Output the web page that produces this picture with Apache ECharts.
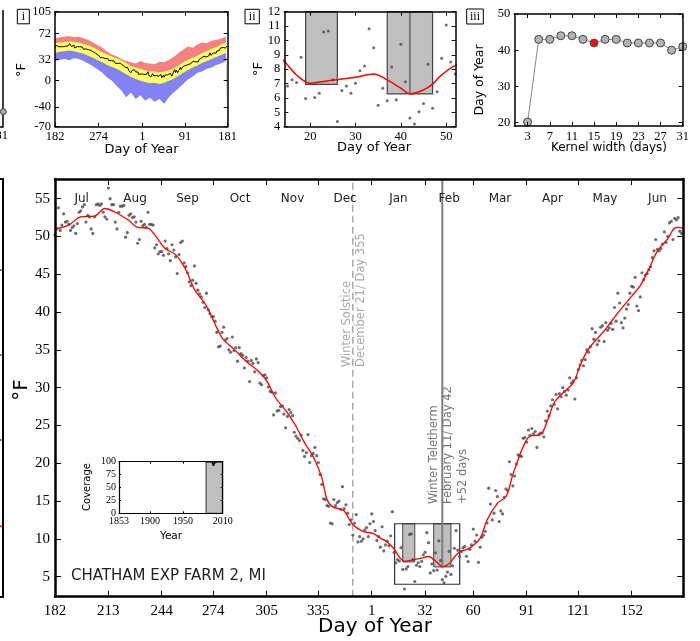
<!DOCTYPE html>
<html><head><meta charset="utf-8">
<script src="https://cdn.jsdelivr.net/npm/echarts@6/dist/echarts.min.js"></script>
<style>html,body{margin:0;padding:0;background:#fff}#c{width:700px;height:641px}#err{position:absolute;left:0;top:0;font:10px monospace;color:#c00;white-space:pre-wrap;width:700px}</style>
</head><body><div id="c"></div><div id="err"></div>
<script>
// ---------------- DATA ----------------
// Daily mean temperature (°F), ordered from day 182 (Jul 1) to day 181 (Jun 30)
const julT = [50.2,51.0,53.8,50.8,51.5,53.0,51.9,52.0,51.6,50.8,51.2,51.4,50.4,51.7,53.2,53.4,53.9,54.2,51.9,52.8,52.6,51.0,50.4,52.6,54.2,54.3,54.1,54.3,53.2,52.6,52.3];
const augT = [56.4,55.0,54.2,54.2,51.9,51.0,53.2,54.0,54.0,54.1,49.9,50.5,52.8,53.0,52.5,52.6,51.9,49.1,49.6,52.0,51.4,51.6,51.2,53.2,51.6,51.6,51.5,48.5,48.9,47.7,48.0];
const sepT = [48.0,47.5,49.4,48.4,47.7,46.8,48.9,48.2,47.3,45.1,47.6,49.2,49.4,46.5,46.0,45.2,44.0,43.5,44.2,46.1,43.8,42.9,42.4,42.0,41.3,40.6,42.5,40.3,39.8,39.4];
const octT = [39.4,38.8,37.3,35.4,35.5,37.3,38.0,36.3,36.5,35.0,34.7,36.7,34.9,35.3,33.5,35.3,34.5,34.3,32.6,34.0,33.5,30.8,33.6,33.2,32.1,33.8,33.3,30.6,30.4,31.6,31.7];
const novT = [31.3,30.1,29.5,29.4,26.4,29.3,26.9,27.0,27.5,27.6,26.5,24.7,26.2,27.1,26.7,26.3,24.1,23.6,23.3,23.0,23.7,21.7,20.9,21.4,23.8,20.1,21.0,21.3,22.1,21.0];
const decT = [20.1,18.5,17.2,15.3,15.2,14.4,14.3,12.1,12.0,15.2,14.4,14.8,15.0,13.9,16.9,14.0,14.5,13.4,11.9,12.5,10.5,12.1,13.2,9.6,10.3,9.7,10.0,11.2,11.5,10.3,12.0];
const janT = [13.3,12.3,11.1,9.8,10.3,8.9,11.6,8.4,9.2,9.7,9.1,10.4,13.6,8.2,6.84,7.26,7.07,8.83,5.96,3.37,6.03,6.33,10.59,10.66,7.26,4.36,6.51,6.84,6.33,7.03,7.9];
const febT = [8.23,10.82,9.5,5.5,6.68,5.8,8.16,5.87,9.74,7.12,4.6,4.18,5.04,5.61,8.35,5.29,6.44,8.76,11.08,8.5,7.67,8.3,8.8,9.0,7.7,7.0,8.6,9.2];
const marT = [11.3,9.7,10.5,6.9,8.9,10.2,10.5,11.0,12.1,16.7,14.6,12.5,13.4,16.4,15.6,12.3,13.7,13.3,15.5,16.6,16.4,20.2,18.5,17.0,18.3,19.9,21.1,21.0,20.9,23.3,23.4];
const aprT = [22.8,24.4,23.7,24.6,23.9,24.2,22.1,23.8,24.0,24.0,23.5,25.6,26.9,26.3,27.6,28.4,27.8,29.1,27.2,29.2,28.8,30.0,29.5,29.0,29.7,31.3,30.6,30.9,28.5,31.3];
const mayT = [32.4,33.0,33.6,32.9,33.7,35.0,34.7,35.4,37.8,36.4,37.3,35.7,36.2,38.0,38.2,36.1,38.6,37.6,37.9,38.5,37.7,40.6,38.8,42.5,41.2,38.6,37.9,39.2,40.4,41.0,42.5];
const junT = [43.4,43.3,44.6,40.8,40.2,42.0,45.2,44.3,44.9,45.1,45.6,46.0,47.2,48.1,49.6,48.3,48.1,48.4,49.0,50.6,49.2,50.0,51.8,52.0,49.6,52.4,52.2,52.5,50.7,50.4];

// Smoothed curve (position index from Jul 1, value °F)
const curveIdx = [0,8,15,23,29,35,43,48,54,58,64,70,76,81,88,97,104,111,118,123,128,135,140,145,150,155,158,161,166,168,173,179,185,189,193,197,200,203,207,213,217,220,223,225,228,230,232,235,241,247,251,257,262,266,272,276,282,286,290,295,301,305,309,313,319,327,335,340,345,350,356,360,363,365];
const curveVal = [51.0,51.5,52.6,52.7,53.7,53.2,52.1,51.2,51.1,50.2,48.4,47.6,45.6,43.0,40.8,36.6,35.1,33.5,32.2,30.9,28.7,26.7,24.9,22.7,20.9,18.1,15.2,14.3,13.9,13.7,11.9,11.0,10.7,10.1,9.6,8.65,7.6,7.03,7.2,7.44,7.67,7.26,6.68,6.29,6.56,6.96,7.6,8.25,8.8,10.1,12.5,14.7,15.6,18.5,22.2,23.6,23.8,25.6,28.0,29.3,30.6,32.9,34.8,36.0,37.5,39.9,42.1,43.5,45.7,48.1,49.7,51.1,51.2,51.0];

const monthNames = ['Jul','Aug','Sep','Oct','Nov','Dec','Jan','Feb','Mar','Apr','May','Jun'];
const monthStartDays = [182,213,244,274,305,335,1,32,60,91,121,152];
const yTickLabels = [5,10,15,20,25,30,35,40,45,50,55];

const solsticeDay = 355;
const teletermDay = 42;
const teletermTemp = 6.29;
const detailDays = [14.3, 52.1];
const detailTemps = [4, 12];
const windowStart = [19, 37];
const windowEnd = [26, 47];
const windowBottom = [6.95, 6.29];

// Inset i: envelopes (position index, °F)
const envIdx = [0,10,20,30,40,50,60,70,80,90,100,110,120,130,140,150,160,170,180,190,200,210,220,230,240,250,260,270,280,290,300,310,320,330,340,350,360,364];
const maxTop = [64,66,67,68,66,67,65,62,58,54,50,44,40,37,33,30,28,26,30,27,26,25,29,28,32,36,42,47,52,50,55,58,57,61,62,64,67,66];
const bandTop = [57,58,59,60,59,58,56,54,51,47,43,40,37,34,31,27,22,20,18,16,14,14,13,14,16,19,23,28,32,35,38,42,45,49,51,55,58,58];
const bandBottom = [42,44,45,46,45,43,41,38,35,31,28,24,21,18,14,10,6,3,0,-2,-4,-3,-5,-3,0,3,7,12,16,20,23,27,30,33,36,39,42,42];
const minBottom = [30,32,33,31,34,33,30,26,22,17,12,5,0,-8,-15,-25,-18,-28,-22,-30,-26,-32,-28,-35,-25,-18,-12,-5,2,6,12,14,18,20,24,26,30,30];
const insetITicks = [182,274,1,91,181];
const insetIYTicks = [105,72,32,0,-40,-70];

// Inset iii: teletherm day vs kernel width
const kernelWidths = [3,5,7,9,11,13,15,17,19,21,23,25,27,29,31];
const teleDays = [20.2,43,43,44,44,43,42,43,43,42,42,42,42,40,41];
const chosenKernel = 15;

// Coverage inset
const coverageYears = [1985,1986,1987,1988,1989,1990,1991,1992,1993,1994,1995,1996,1997,1998,1999,2000,2001,2002,2003,2004,2005,2006,2007,2008,2009,2010];
const coverageVals = [100,100,99,100,100,100,98,100,100,100,96,92,97,100,100,99,100,100,100,100,100,100,100,100,100,100];
const coverageTicksX = [1853,1900,1950,2010];
const coverageTicksY = [0,25,50,75,100];

try {
// ---------------- HELPERS ----------------
const dailyTemps = [].concat(julT,augT,sepT,octT,novT,decT,janT,febT,marT,aprT,mayT,junT);
function dayToIdx(d){ return d >= 182 ? d - 182 : d + 183; }
const monthStartIdx = monthStartDays.map(dayToIdx);
const monthMidIdx = monthStartIdx.map((v,i)=> (v + (i<11 ? monthStartIdx[i+1] : 365))/2);
const SERIF = 'Liberation Serif';
const SANS = 'DejaVu Sans';

function axis(grid, position, min, max, o){
  o = o || {};
  const lab = {show:!!o.labels, fontFamily:SERIF, fontSize:o.fs||12, color:'#000', margin:o.margin||4};
  if (o.labels) lab.customValues = o.labels;
  lab.formatter = o.fmt || (v => String(v));
  Object.assign(lab, o.label||{});
  const tick = {show:true, inside:true, length:o.tl||4, lineStyle:{color:'#000', width:1}};
  if (o.ticks) tick.customValues = o.ticks;
  return {
    type:'value', gridIndex:grid, position:position, min:min, max:max, z:10,
    axisLine:{show:true, onZero:false, lineStyle:{color:'#000', width:o.lw||1.5}},
    axisTick:tick, axisLabel:lab, splitLine:{show:false}
  };
}
function rectRender(fill, stroke, lw){
  return function(params, api){
    const a = api.coord([api.value(0), api.value(3)]);
    const b = api.coord([api.value(1), api.value(2)]);
    return {type:'rect', shape:{x:a[0], y:a[1], width:b[0]-a[0], height:b[1]-a[1]},
      style:{fill:fill, stroke:stroke, lineWidth:lw}};
  };
}

const mainY = [2.35, 57.6];
const idxFmt = v => { const i = monthStartIdx.indexOf(Math.round(v)); return i>=0 ? String(monthStartDays[i]) : ''; };
const monFmt = v => { const i = monthMidIdx.indexOf(v); return i>=0 ? monthNames[i] : ''; };
const envTickIdx = insetITicks.map(dayToIdx);
const envFmt = v => { const i = envTickIdx.indexOf(Math.round(v)); return i>=0 ? String(insetITicks[i]) : ''; };
const kTicks = kernelWidths.filter((k,i)=>i%2===0);

const xAxes = [
  axis(0,'bottom',0,365,{lw:2.5,tl:6,ticks:monthStartIdx,labels:monthStartIdx,fmt:idxFmt,fs:15,margin:7}),
  axis(0,'top',0,365,{lw:2.5,tl:6,ticks:monthStartIdx,labels:monthMidIdx,fmt:monFmt,fs:12,margin:14,label:{inside:true,fontFamily:SANS,color:'#222'}}),
  axis(1,'bottom',0,364,{ticks:envTickIdx,labels:envTickIdx,fmt:envFmt,fs:12.5}),
  axis(1,'top',0,364,{ticks:envTickIdx}),
  axis(2,'bottom',14.3,52.1,{ticks:[20,30,40,50],labels:[20,30,40,50],fs:12.5}),
  axis(2,'top',14.3,52.1,{ticks:[20,30,40,50]}),
  axis(3,'bottom',0.6,31,{ticks:kTicks,labels:kTicks,fs:12.5}),
  axis(3,'top',0.6,31,{ticks:kTicks}),
  axis(4,'bottom',1853,2010,{lw:1.2,tl:2,ticks:coverageTicksX,labels:coverageTicksX,fs:10,margin:3}),
  axis(4,'top',1853,2010,{lw:1.2,tl:2,ticks:coverageTicksX})
];
const yAxes = [
  axis(0,'left',mainY[0],mainY[1],{lw:2.5,tl:6,ticks:yTickLabels,labels:yTickLabels,fs:15,margin:5}),
  axis(0,'right',mainY[0],mainY[1],{lw:2.5,tl:6,ticks:yTickLabels}),
  axis(1,'left',-70,105,{ticks:insetIYTicks,labels:insetIYTicks,fs:12.5}),
  axis(1,'right',-70,105,{ticks:insetIYTicks}),
  axis(2,'left',4,12,{ticks:[4,5,6,7,8,9,10,11,12],labels:[4,5,6,7,8,9,10,11,12],fs:12.5}),
  axis(2,'right',4,12,{ticks:[4,5,6,7,8,9,10,11,12]}),
  axis(3,'left',19.1,50,{ticks:[20,30,40,50],labels:[20,30,40,50],fs:12.5}),
  axis(3,'right',19.1,50,{ticks:[20,30,40,50]}),
  axis(4,'left',0,100,{lw:1.2,tl:2,ticks:coverageTicksY,labels:coverageTicksY,fs:10,margin:3}),
  axis(4,'right',0,100,{lw:1.2,tl:2,ticks:coverageTicksY})
];

const grids = [
  {left:55, top:179, width:628.3, height:417.7},
  {left:55, top:11.7, width:172.7, height:115},
  {left:284.3, top:11.7, width:171.4, height:115},
  {left:514.3, top:14, width:168.4, height:112},
  {left:119, top:461.7, width:103.7, height:51.6}
].map(g => Object.assign({show:false, containLabel:false}, g));

const scatterMain = dailyTemps.map((v,i)=>[i,v]);
const curveMain = curveIdx.map((x,i)=>[x,curveVal[i]]);
const barsMain = windowStart.map((s,i)=>[dayToIdx(s), dayToIdx(windowEnd[i]), windowBottom[i], detailTemps[1]]);
const barsInset = windowStart.map((s,i)=>[s, windowEnd[i], windowBottom[i], detailTemps[1]]);
const scatterInset = dailyTemps.map((v,i)=>[i-183, v]).filter(p=>p[0]>=13 && p[0]<=53);
const curveInset = curveIdx.map((x,i)=>[x-183, curveVal[i]]).filter(p=>p[0]>=8 && p[0]<=60);
const envSeries = (arr,color,z) => ({type:'line', xAxisIndex:2, yAxisIndex:2, z:z, symbol:'none', silent:true,
  data: envIdx.map((x,i)=>[x, arr[i]]), lineStyle:{width:0}, areaStyle:{color:color, opacity:1, origin:'start'}});

const kernelData = kernelWidths.map((k,i)=>{
  const item = {value:[k, teleDays[i]]};
  if (k===chosenKernel) item.itemStyle = {color:'#ee1111', borderColor:'#555', borderWidth:1};
  return item;
});

const series = [
  // main chart
  {type:'custom', xAxisIndex:0, yAxisIndex:0, z:1, renderItem:rectRender('#bfbfbf','#444',1), data:barsMain},
  {type:'custom', xAxisIndex:0, yAxisIndex:0, z:1, renderItem:rectRender('none','#333',1.2),
    data:[[dayToIdx(detailDays[0]), dayToIdx(detailDays[1]), detailTemps[0], detailTemps[1]]]},
  {type:'line', xAxisIndex:0, yAxisIndex:0, z:2, symbol:'none', silent:true,
    data:[[dayToIdx(solsticeDay), mainY[0]],[dayToIdx(solsticeDay), mainY[1]]],
    lineStyle:{color:'#aaaaaa', width:1.5, type:[7,4]}},
  {type:'line', xAxisIndex:0, yAxisIndex:0, z:2, symbol:'none', silent:true,
    data:[[dayToIdx(teletermDay), teletermTemp],[dayToIdx(teletermDay), mainY[1]]],
    lineStyle:{color:'#7f7f7f', width:2}},
  {type:'scatter', xAxisIndex:0, yAxisIndex:0, z:3, symbolSize:3.2, data:scatterMain, itemStyle:{color:'#4a4a4a'}},
  {type:'line', xAxisIndex:0, yAxisIndex:0, z:4, symbol:'none', smooth:0.35, data:curveMain, lineStyle:{color:'#ff0000', width:1.3}},
  // inset i
  envSeries(maxTop,'#f88080',1),
  envSeries(bandTop,'#ffff66',2),
  envSeries(bandBottom,'#8282f5',3),
  envSeries(minBottom,'#ffffff',4),
  {type:'line', xAxisIndex:2, yAxisIndex:2, z:5, symbol:'none', data:dailyTemps.map((v,i)=>[i,v]), lineStyle:{color:'#000', width:1}},
  // inset ii
  {type:'custom', xAxisIndex:4, yAxisIndex:4, z:1, renderItem:rectRender('#bfbfbf','#444',1.2), data:barsInset},
  {type:'line', xAxisIndex:4, yAxisIndex:4, z:2, symbol:'none', data:[[teletermDay, teletermTemp],[teletermDay, detailTemps[1]]], lineStyle:{color:'#666', width:1.5}},
  {type:'scatter', xAxisIndex:4, yAxisIndex:4, z:3, symbolSize:3, data:scatterInset, itemStyle:{color:'#4a4a4a'}},
  {type:'line', xAxisIndex:4, yAxisIndex:4, z:4, symbol:'none', smooth:0.35, data:curveInset, lineStyle:{color:'#ff0000', width:1.5}},
  // inset iii
  {type:'line', xAxisIndex:6, yAxisIndex:6, z:3, symbol:'circle', symbolSize:8, data:kernelData,
    lineStyle:{color:'#888', width:1}, itemStyle:{color:'#b3b3b3', borderColor:'#444', borderWidth:1}},
  // coverage
  {type:'custom', xAxisIndex:8, yAxisIndex:8, z:1, renderItem:rectRender('#bfbfbf','#333',1),
    data:[[coverageYears[0]-0.2, coverageYears[coverageYears.length-1], 0, 100]]},
  {type:'line', xAxisIndex:8, yAxisIndex:8, z:2, symbol:'none', data:coverageYears.map((y,i)=>[y, coverageVals[i]]), lineStyle:{color:'#000', width:1.5}}
];

function txt(x,y,text,o){
  o = o || {};
  return {type:'text', x:x, y:y, rotation:o.rot||0, z:100, silent:true,
    style:{text:text, fontSize:o.fs||12, fontFamily:o.ff||SANS, fill:o.fill||'#000', align:o.align||'center', verticalAlign:o.va||'middle'}};
}
function box(x,y,w,h,label){
  return [{type:'rect', z:100, shape:{x:x,y:y,width:w,height:h}, style:{fill:'#fff', stroke:'#000', lineWidth:1}},
          txt(x+w/2, y+h/2+0.5, label, {ff:SERIF, fs:12})];
}
const R = Math.PI/2;
const graphics = [].concat(
  box(17.3,9.3,12,14.5,'i'), box(245,9.3,14.3,14.5,'ii'), box(466.7,9,16.6,15,'iii'),
  [
    txt(22,70,'°F',{rot:R,fs:13}),
    txt(141.5,150,'Day of Year',{fs:13}),
    txt(259,69,'°F',{rot:R,fs:13}),
    txt(374,148,'Day of Year',{fs:13}),
    txt(480,80,'Day of Year',{rot:R,fs:12.5}),
    txt(609,148,'Kernel width (days)',{fs:12}),
    txt(22,390,'°F',{rot:R,fs:20}),
    txt(375,627,'Day of Year',{fs:20}),
    txt(71,576,'CHATHAM EXP FARM 2, MI',{fs:15,align:'left',fill:'#222'}),
    txt(87.3,487,'Coverage',{rot:R,fs:10}),
    txt(171,536,'Year',{fs:10.5}),
    txt(346.7,367,'Winter Solstice',{rot:R,fs:11.5,align:'left',fill:'#aaaaaa'}),
    txt(360.7,367,'December 21/ Day 355',{rot:R,fs:11.5,align:'left',fill:'#aaaaaa'}),
    txt(434.3,504,'Winter Teletherm',{rot:R,fs:11.5,align:'left',fill:'#777'}),
    txt(448.3,504,'February 11/ Day 42',{rot:R,fs:11.5,align:'left',fill:'#777'}),
    txt(462.7,504,'+52 days',{rot:R,fs:11.5,align:'left',fill:'#777'}),
    {type:'polyline', z:100, shape:{points:[[3,10],[3,127],[-2,127]]}, style:{stroke:'#000', fill:'none', lineWidth:1.5}},
    {type:'circle', z:101, shape:{cx:3.3, cy:111.7, r:3}, style:{fill:'#aaa', stroke:'#444', lineWidth:1}},
    txt(8,136,'181',{ff:SERIF,fs:12.5,align:'right'}),
    {type:'polyline', z:100, shape:{points:[[-2,179],[3,179],[3,597],[-2,597]]}, style:{stroke:'#000', fill:'none', lineWidth:2}},
    {type:'line', z:100, shape:{x1:0,y1:270,x2:3,y2:270}, style:{stroke:'#000', lineWidth:1}},
    {type:'line', z:100, shape:{x1:0,y1:355,x2:3,y2:355}, style:{stroke:'#000', lineWidth:1}},
    {type:'line', z:100, shape:{x1:0,y1:440,x2:3,y2:440}, style:{stroke:'#000', lineWidth:1}},
    {type:'line', z:100, shape:{x1:-1,y1:525,x2:2,y2:527}, style:{stroke:'#ff0000', lineWidth:1.3}}
  ]
);

const chart = echarts.init(document.getElementById('c'), null, {renderer:'canvas'});
chart.setOption({
  animation:false,
  backgroundColor:'#fff',
  grid:grids, xAxis:xAxes, yAxis:yAxes, series:series, graphic:graphics
});
} catch(e) { document.getElementById('err').textContent = e.stack; }
</script></body></html>
